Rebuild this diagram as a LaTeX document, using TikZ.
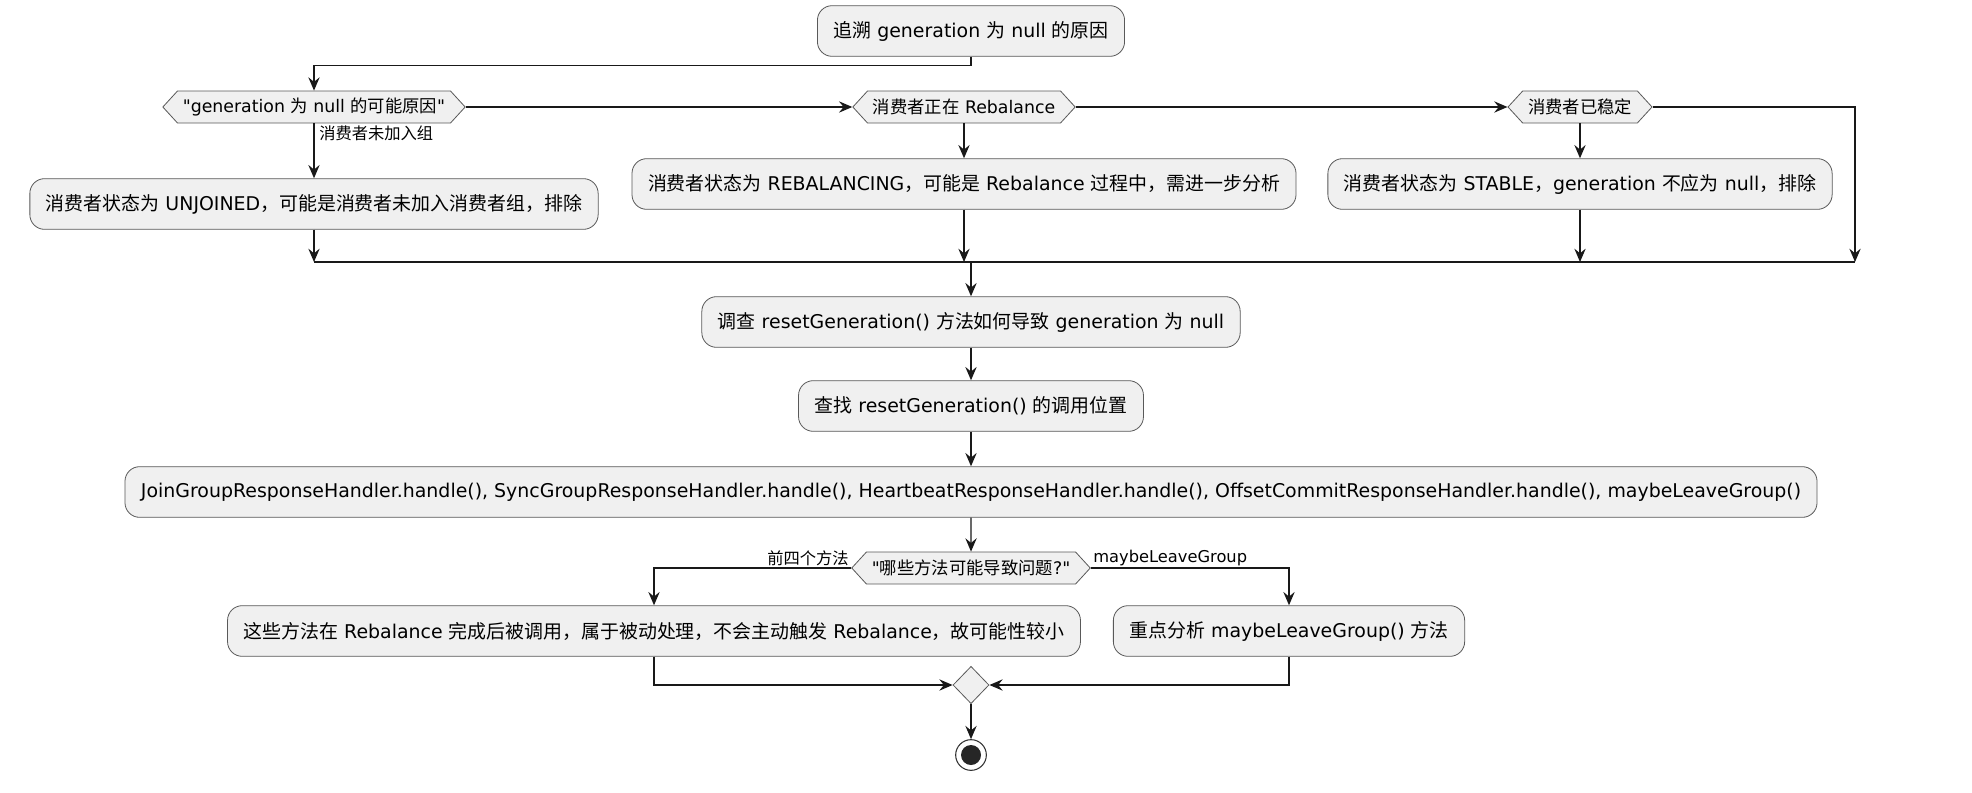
\documentclass[tikz,border=0pt]{standalone}
\usepackage{fontspec}
\newfontfamily\latinfont{DejaVu Sans}
\newfontfamily\cjkfont{Noto Sans CJK SC}
\usetikzlibrary{arrows.meta, shapes.geometric, shapes.symbols}

% CJK characters switch to the CJK family
\XeTeXinterchartokenstate=1
\newXeTeXintercharclass\cjkclass
\count255="3000
\loop\XeTeXcharclass\count255=\cjkclass\advance\count255 by 1 \ifnum\count255<"A000 \repeat
\count255="FF00
\loop\XeTeXcharclass\count255=\cjkclass\advance\count255 by 1 \ifnum\count255<"FFF0 \repeat
\XeTeXinterchartoks 0 \cjkclass = {\begingroup\cjkfont}
\XeTeXinterchartoks 4095 \cjkclass = {\begingroup\cjkfont}
\XeTeXinterchartoks \cjkclass 0 = {\endgroup}
\XeTeXinterchartoks \cjkclass 4095 = {\endgroup}

\begin{document}
\begin{tikzpicture}[
  x=0.75pt, y=-0.75pt,
  >={Stealth[length=10pt, width=8.5pt, inset=3.5pt]},
  font=\latinfont\fontsize{14.2}{17}\selectfont,
  box/.style={draw=gray!70!black, line width=0.6pt, rounded corners=11pt, fill=gray!12, inner xsep=12pt, minimum height=38pt},
  choice/.style={draw=gray!70!black, line width=0.6pt, fill=gray!12, shape=signal, signal to=east and west, signal pointer angle=95, inner xsep=4pt, inner ysep=2pt, minimum height=24pt, font=\latinfont\fontsize{13}{15}\selectfont},
  flow/.style={line width=0.9pt, draw=black!90},
  arr/.style={flow, ->},
  lbl/.style={font=\latinfont\fontsize{12.2}{14}\selectfont, inner sep=1.5pt}
]
\path[use as bounding box, fill=white] (0,0) rectangle (1972,792);

% START
\node[box] (trace) at (971,31) {追溯 generation 为 null 的原因};

% POSSIBLE REASONS
\node[choice] (why) at (314,107) {"generation 为 null 的可能原因"};
\node[choice] (rebal) at (964,107) {消费者正在 Rebalance};
\node[choice] (stable) at (1580,107) {消费者已稳定};

\node[box] (unjoined) at (314,204) {消费者状态为 UNJOINED，可能是消费者未加入消费者组，排除};
\node[box] (rebalbox) at (964,184) {消费者状态为 REBALANCING，可能是 Rebalance 过程中，需进一步分析};
\node[box] (stablebox) at (1580,184) {消费者状态为 STABLE，generation 不应为 null，排除};

\coordinate (mergeR) at (1855,262);

\draw[arr] (trace.south) -- ++(0,9) -| (why.north);
\draw[arr] (why.east) -- (rebal.west);
\draw[arr] (rebal.east) -- (stable.west);
\draw[arr] (stable.east) -| (mergeR);
\draw[arr] (why.south) -- node[lbl, anchor=north west, pos=0, xshift=2pt] {消费者未加入组} (unjoined.north);
\draw[arr] (rebal.south) -- (rebalbox.north);
\draw[arr] (stable.south) -- (stablebox.north);
\draw[arr] (unjoined.south) -- (unjoined.south |- mergeR);
\draw[arr] (rebalbox.south) -- (rebalbox.south |- mergeR);
\draw[arr] (stablebox.south) -- (stablebox.south |- mergeR);
\draw[flow] (unjoined.south |- mergeR) -- (mergeR);

% RESETGENERATION
\node[box] (inspect) at (971,322) {调查 resetGeneration() 方法如何导致 generation 为 null};
\node[box] (locate) at (971,406) {查找 resetGeneration() 的调用位置};
\node[box] (callers) at (971,492) {JoinGroupResponseHandler.handle(), SyncGroupResponseHandler.handle(), HeartbeatResponseHandler.handle(), OffsetCommitResponseHandler.handle(), maybeLeaveGroup()};

\draw[arr] (inspect.north |- mergeR) -- (inspect.north);
\draw[arr] (inspect) -- (locate);
\draw[arr] (locate) -- (callers);

% WHICH METHODS
\node[choice] (which) at (971,568) {"哪些方法可能导致问题?"};
\node[box] (passive) at (654,631) {这些方法在 Rebalance 完成后被调用，属于被动处理，不会主动触发 Rebalance，故可能性较小};
\node[box] (leave) at (1289,631) {重点分析 maybeLeaveGroup() 方法};
\node[diamond, draw=gray!70!black, line width=0.6pt, fill=gray!12, inner sep=0pt, minimum width=27pt, minimum height=28pt] (join) at (971,685) {};
\node[circle, draw=black!80, line width=0.8pt, fill=white, minimum size=23pt, inner sep=0pt] (stop) at (971,755) {};
\node[circle, fill=black!85, minimum size=15pt, inner sep=0pt] (stopdot) at (stop) {};

\draw[arr] (callers) -- (which);
\draw[arr] (which.west) -| node[lbl, pos=0, anchor=south east] {前四个方法} (passive.north);
\draw[arr] (which.east) -| node[lbl, pos=0, anchor=south west] {maybeLeaveGroup} (leave.north);
\draw[arr] (passive.south) |- (join.west);
\draw[arr] (leave.south) |- (join.east);
\draw[arr] (join) -- (stop);

\end{tikzpicture}
\end{document}
